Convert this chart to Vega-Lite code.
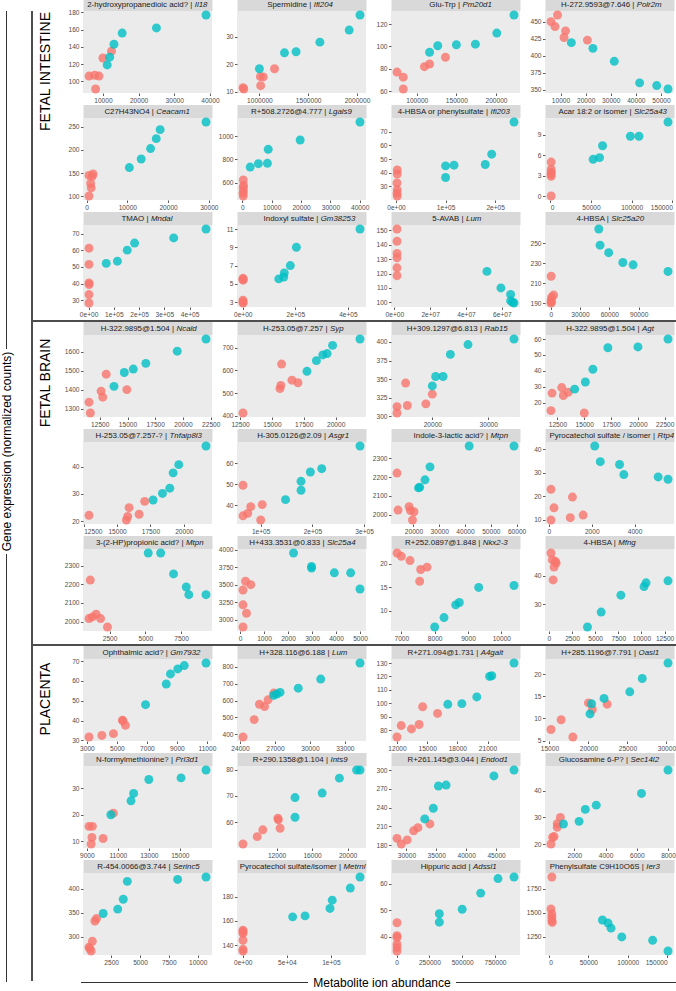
{
"$schema":"https://vega.github.io/schema/vega-lite/v6.json",
"padding":0,
"background":"white",
"config":{
 "view":{"stroke":null},
 "numberFormat":"d",
 "axis":{"grid":false,"domain":false,"tickColor":"#333333","tickSize":2.5,"tickWidth":0.8,"labelFontSize":6.6,"labelColor":"#4D4D4D","labelFont":"Liberation Sans","labelPadding":1.5,"labelOverlap":false,"titleFont":"Liberation Sans","titleFontSize":7.9,"titleFontWeight":"normal","titleColor":"#1A1A1A"},
 "axisLeft":{"minExtent":22},
 "axisTop":{"labels":false,"ticks":false,"domainColor":"#D9D9D9","domainWidth":13,"titleBaseline":"middle","titlePadding":0}
},
"datasets":{"pts":[
{"p":1,"g":"1","x":6100,"y":106},{"p":1,"g":"1","x":7700,"y":107},{"p":1,"g":"1","x":8900,"y":106},{"p":1,"g":"1","x":7950,"y":91},{"p":1,"g":"1","x":10000,"y":127},{"p":1,"g":"1","x":12400,"y":135},
{"p":1,"g":"2","x":11200,"y":119},{"p":1,"g":"2","x":11900,"y":128},{"p":1,"g":"2","x":13100,"y":143},{"p":1,"g":"2","x":15400,"y":156},{"p":1,"g":"2","x":25000,"y":162},{"p":1,"g":"2","x":38900,"y":177},
{"p":2,"g":"1","x":832000,"y":11.5},{"p":2,"g":"1","x":840000,"y":11},{"p":2,"g":"1","x":1010000,"y":15.5},{"p":2,"g":"1","x":1040000,"y":15.4},{"p":2,"g":"1","x":1013000,"y":12.2},{"p":2,"g":"1","x":1155000,"y":18.4},
{"p":2,"g":"2","x":1000000,"y":18.4},{"p":2,"g":"2","x":1257000,"y":24.2},{"p":2,"g":"2","x":1376000,"y":24.6},{"p":2,"g":"2","x":1620000,"y":28.1},{"p":2,"g":"2","x":1920000,"y":32.5},{"p":2,"g":"2","x":2031000,"y":38},
{"p":3,"g":"1","x":75100,"y":77},{"p":3,"g":"1","x":83000,"y":72.4},{"p":3,"g":"1","x":83000,"y":61.8},{"p":3,"g":"1","x":109700,"y":81.8},{"p":3,"g":"1","x":116200,"y":84.2},{"p":3,"g":"1","x":136200,"y":90.3},
{"p":3,"g":"2","x":116200,"y":94.8},{"p":3,"g":"2","x":126500,"y":100.6},{"p":3,"g":"2","x":150000,"y":101.5},{"p":3,"g":"2","x":174000,"y":102},{"p":3,"g":"2","x":201000,"y":112},{"p":3,"g":"2","x":222700,"y":128.2},
{"p":4,"g":"1","x":6200,"y":450},{"p":4,"g":"1","x":7800,"y":442.7},{"p":4,"g":"1","x":8800,"y":459.7},{"p":4,"g":"1","x":12000,"y":436.4},{"p":4,"g":"1","x":11400,"y":426.7},{"p":4,"g":"1","x":20700,"y":422.8},
{"p":4,"g":"2","x":14300,"y":419},{"p":4,"g":"2","x":22900,"y":410.7},{"p":4,"g":"2","x":31400,"y":391.7},{"p":4,"g":"2","x":41500,"y":360},{"p":4,"g":"2","x":48300,"y":356},{"p":4,"g":"2","x":52800,"y":351},
{"p":5,"g":"1","x":600,"y":145},{"p":5,"g":"1","x":1600,"y":148},{"p":5,"g":"1","x":1400,"y":143},{"p":5,"g":"1","x":1000,"y":127.5},{"p":5,"g":"1","x":1150,"y":118},{"p":5,"g":"1","x":600,"y":100.5},
{"p":5,"g":"2","x":10500,"y":162},{"p":5,"g":"2","x":13400,"y":180.5},{"p":5,"g":"2","x":15700,"y":203},{"p":5,"g":"2","x":17100,"y":224.5},{"p":5,"g":"2","x":18050,"y":244},{"p":5,"g":"2","x":29300,"y":260.5},
{"p":6,"g":"1","x":300,"y":623},{"p":6,"g":"1","x":400,"y":577},{"p":6,"g":"1","x":250,"y":557},{"p":6,"g":"1","x":350,"y":529},{"p":6,"g":"1","x":200,"y":509},{"p":6,"g":"1","x":300,"y":486},
{"p":6,"g":"2","x":2650,"y":734},{"p":6,"g":"2","x":5440,"y":763},{"p":6,"g":"2","x":8530,"y":766},{"p":6,"g":"2","x":8800,"y":886},{"p":6,"g":"2","x":19700,"y":966},{"p":6,"g":"2","x":40100,"y":1120},
{"p":7,"g":"1","x":2500,"y":42},{"p":7,"g":"1","x":2500,"y":39},{"p":7,"g":"1","x":2000,"y":32.5},{"p":7,"g":"1","x":2500,"y":27.5},{"p":7,"g":"1","x":2000,"y":25},{"p":7,"g":"1","x":2500,"y":23},
{"p":7,"g":"2","x":100000,"y":36.5},{"p":7,"g":"2","x":100000,"y":45},{"p":7,"g":"2","x":117000,"y":45.5},{"p":7,"g":"2","x":180000,"y":46},{"p":7,"g":"2","x":193000,"y":53.5},{"p":7,"g":"2","x":238000,"y":77},
{"p":8,"g":"1","x":1000,"y":5},{"p":8,"g":"1","x":1000,"y":3.9},{"p":8,"g":"1","x":1200,"y":3.5},{"p":8,"g":"1","x":800,"y":3.2},{"p":8,"g":"1","x":1000,"y":2.9},{"p":8,"g":"1","x":1000,"y":0},
{"p":8,"g":"2","x":52600,"y":5.4},{"p":8,"g":"2","x":60500,"y":5.65},{"p":8,"g":"2","x":64200,"y":7.4},{"p":8,"g":"2","x":98400,"y":8.8},{"p":8,"g":"2","x":109000,"y":8.8},{"p":8,"g":"2","x":144700,"y":10.9},
{"p":9,"g":"1","x":1500,"y":61.4},{"p":9,"g":"1","x":1500,"y":51.6},{"p":9,"g":"1","x":1500,"y":40.4},{"p":9,"g":"1","x":1800,"y":39.4},{"p":9,"g":"1","x":1500,"y":33.3},{"p":9,"g":"1","x":1500,"y":28.2},
{"p":9,"g":"2","x":69800,"y":52.2},{"p":9,"g":"2","x":114000,"y":53.5},{"p":9,"g":"2","x":153000,"y":60.2},{"p":9,"g":"2","x":182000,"y":64.5},{"p":9,"g":"2","x":337000,"y":67.6},{"p":9,"g":"2","x":465000,"y":73},
{"p":10,"g":"1","x":1000,"y":5.6},{"p":10,"g":"1","x":1200,"y":5.4},{"p":10,"g":"1","x":1500,"y":5.5},{"p":10,"g":"1","x":1000,"y":3.2},{"p":10,"g":"1","x":1500,"y":3.0},{"p":10,"g":"1","x":1000,"y":2.9},
{"p":10,"g":"2","x":137000,"y":5.54},{"p":10,"g":"2","x":156000,"y":5.75},{"p":10,"g":"2","x":158000,"y":6.2},{"p":10,"g":"2","x":181000,"y":7.0},{"p":10,"g":"2","x":204000,"y":9.0},{"p":10,"g":"2","x":446000,"y":11.0},
{"p":11,"g":"1","x":1500000,"y":151},{"p":11,"g":"1","x":1500000,"y":142.5},{"p":11,"g":"1","x":1500000,"y":134},{"p":11,"g":"1","x":1500000,"y":131},{"p":11,"g":"1","x":1500000,"y":124},{"p":11,"g":"1","x":1500000,"y":118.5},
{"p":11,"g":"2","x":51700000,"y":121.5},{"p":11,"g":"2","x":59500000,"y":110},{"p":11,"g":"2","x":64900000,"y":105.5},{"p":11,"g":"2","x":64900000,"y":101},{"p":11,"g":"2","x":66800000,"y":99.5},{"p":11,"g":"2","x":66000000,"y":100},
{"p":12,"g":"1","x":500,"y":217},{"p":12,"g":"1","x":3000,"y":198},{"p":12,"g":"1","x":1000,"y":196},{"p":12,"g":"1","x":500,"y":193},{"p":12,"g":"1","x":800,"y":191},{"p":12,"g":"1","x":300,"y":190},
{"p":12,"g":"2","x":49200,"y":264.6},{"p":12,"g":"2","x":50500,"y":248.3},{"p":12,"g":"2","x":59300,"y":240.7},{"p":12,"g":"2","x":73800,"y":230.8},{"p":12,"g":"2","x":84300,"y":228.5},{"p":12,"g":"2","x":120000,"y":221.8},
{"p":13,"g":"1","x":11530,"y":1334},{"p":13,"g":"1","x":11650,"y":1277},{"p":13,"g":"1","x":12620,"y":1392},{"p":13,"g":"1","x":12770,"y":1360},{"p":13,"g":"1","x":13080,"y":1481},{"p":13,"g":"1","x":14940,"y":1400},
{"p":13,"g":"2","x":13780,"y":1417},{"p":13,"g":"2","x":14710,"y":1490},{"p":13,"g":"2","x":15520,"y":1508},{"p":13,"g":"2","x":16650,"y":1538},{"p":13,"g":"2","x":19480,"y":1602},{"p":13,"g":"2","x":22070,"y":1666},
{"p":14,"g":"1","x":12730,"y":413},{"p":14,"g":"1","x":15760,"y":628},{"p":14,"g":"1","x":15630,"y":520},{"p":14,"g":"1","x":15700,"y":534},{"p":14,"g":"1","x":16570,"y":557},{"p":14,"g":"1","x":17040,"y":546},
{"p":14,"g":"2","x":17750,"y":596},{"p":14,"g":"2","x":18490,"y":643},{"p":14,"g":"2","x":18990,"y":668},{"p":14,"g":"2","x":19330,"y":674},{"p":14,"g":"2","x":19760,"y":710},{"p":14,"g":"2","x":21910,"y":738},
{"p":15,"g":"1","x":13690,"y":313},{"p":15,"g":"1","x":13690,"y":304.4},{"p":15,"g":"1","x":15540,"y":314.5},{"p":15,"g":"1","x":15230,"y":344.7},{"p":15,"g":"1","x":18850,"y":316.7},{"p":15,"g":"1","x":20000,"y":329.8},
{"p":15,"g":"2","x":20000,"y":340.8},{"p":15,"g":"2","x":20600,"y":353.5},{"p":15,"g":"2","x":21920,"y":353.5},{"p":15,"g":"2","x":23230,"y":383.3},{"p":15,"g":"2","x":26380,"y":396.5},{"p":15,"g":"2","x":34600,"y":404},
{"p":16,"g":"1","x":11900,"y":15},{"p":16,"g":"1","x":12000,"y":26},{"p":16,"g":"1","x":12900,"y":29.5},{"p":16,"g":"1","x":13050,"y":24.5},{"p":16,"g":"1","x":13500,"y":26.5},{"p":16,"g":"1","x":15000,"y":13.5},
{"p":16,"g":"2","x":14100,"y":28.5},{"p":16,"g":"2","x":15100,"y":33},{"p":16,"g":"2","x":15800,"y":41},{"p":16,"g":"2","x":17200,"y":54.5},{"p":16,"g":"2","x":20000,"y":55},{"p":16,"g":"2","x":22800,"y":60},
{"p":17,"g":"1","x":12900,"y":22.2},{"p":17,"g":"1","x":15700,"y":20.5},{"p":17,"g":"1","x":15800,"y":21.8},{"p":17,"g":"1","x":15900,"y":25},{"p":17,"g":"1","x":16650,"y":22.6},{"p":17,"g":"1","x":17070,"y":27.3},
{"p":17,"g":"2","x":17700,"y":27.8},{"p":17,"g":"2","x":18400,"y":30.2},{"p":17,"g":"2","x":18950,"y":32.1},{"p":17,"g":"2","x":19200,"y":37.7},{"p":17,"g":"2","x":19620,"y":40.7},{"p":17,"g":"2","x":21660,"y":47.5},
{"p":18,"g":"1","x":65800,"y":49.5},{"p":18,"g":"1","x":65800,"y":34.8},{"p":18,"g":"1","x":75000,"y":36},{"p":18,"g":"1","x":80800,"y":39.2},{"p":18,"g":"1","x":100000,"y":32.8},{"p":18,"g":"1","x":103000,"y":40.2},
{"p":18,"g":"2","x":148000,"y":42.6},{"p":18,"g":"2","x":178000,"y":47.1},{"p":18,"g":"2","x":178000,"y":51.4},{"p":18,"g":"2","x":196000,"y":55.9},{"p":18,"g":"2","x":218000,"y":57.5},{"p":18,"g":"2","x":292000,"y":68.4},
{"p":19,"g":"1","x":13600,"y":2222},{"p":19,"g":"1","x":14000,"y":2025},{"p":19,"g":"1","x":18300,"y":2043},{"p":19,"g":"1","x":18800,"y":2022},{"p":19,"g":"1","x":19600,"y":1972},{"p":19,"g":"1","x":20200,"y":2016},
{"p":19,"g":"2","x":21960,"y":2143},{"p":19,"g":"2","x":22400,"y":2147},{"p":19,"g":"2","x":24460,"y":2186},{"p":19,"g":"2","x":26400,"y":2255},{"p":19,"g":"2","x":41600,"y":2366},{"p":19,"g":"2","x":59000,"y":2366},
{"p":20,"g":"1","x":100,"y":22.9},{"p":20,"g":"1","x":240,"y":15},{"p":20,"g":"1","x":100,"y":9.8},{"p":20,"g":"1","x":1100,"y":19.6},{"p":20,"g":"1","x":1000,"y":10.8},{"p":20,"g":"1","x":1600,"y":11.9},
{"p":20,"g":"2","x":2140,"y":41.4},{"p":20,"g":"2","x":2400,"y":34.7},{"p":20,"g":"2","x":3300,"y":33.5},{"p":20,"g":"2","x":3500,"y":29.2},{"p":20,"g":"2","x":5100,"y":28.2},{"p":20,"g":"2","x":5560,"y":27.2},
{"p":21,"g":"1","x":1150,"y":2222},{"p":21,"g":"1","x":1060,"y":2016},{"p":21,"g":"1","x":1300,"y":2025},{"p":21,"g":"1","x":1560,"y":2040},{"p":21,"g":"1","x":1870,"y":2016},{"p":21,"g":"1","x":2350,"y":1971},
{"p":21,"g":"2","x":5200,"y":2367},{"p":21,"g":"2","x":6070,"y":2367},{"p":21,"g":"2","x":6970,"y":2255},{"p":21,"g":"2","x":7860,"y":2185},{"p":21,"g":"2","x":8040,"y":2144},{"p":21,"g":"2","x":9240,"y":2144},
{"p":22,"g":"1","x":125,"y":2900},{"p":22,"g":"1","x":125,"y":3215},{"p":22,"g":"1","x":125,"y":3426},{"p":22,"g":"1","x":230,"y":3550},{"p":22,"g":"1","x":450,"y":3502},{"p":22,"g":"1","x":270,"y":3096},
{"p":22,"g":"2","x":2230,"y":3952},{"p":22,"g":"2","x":2980,"y":3761},{"p":22,"g":"2","x":2980,"y":3737},{"p":22,"g":"2","x":3930,"y":3670},{"p":22,"g":"2","x":4610,"y":3670},{"p":22,"g":"2","x":5000,"y":3440},
{"p":23,"g":"1","x":6870,"y":22.3},{"p":23,"g":"1","x":7000,"y":21.6},{"p":23,"g":"1","x":7260,"y":20.7},{"p":23,"g":"1","x":7580,"y":18.8},{"p":23,"g":"1","x":7770,"y":19.3},{"p":23,"g":"1","x":7550,"y":16.3},
{"p":23,"g":"2","x":8000,"y":6.6},{"p":23,"g":"2","x":8280,"y":8.6},{"p":23,"g":"2","x":8630,"y":11.3},{"p":23,"g":"2","x":8740,"y":11.8},{"p":23,"g":"2","x":9320,"y":15},{"p":23,"g":"2","x":10380,"y":15.4},
{"p":24,"g":"1","x":230,"y":47.9},{"p":24,"g":"1","x":370,"y":45.5},{"p":24,"g":"1","x":560,"y":43},{"p":24,"g":"1","x":790,"y":44.4},{"p":24,"g":"1","x":460,"y":38.5},{"p":24,"g":"1","x":700,"y":45},
{"p":24,"g":"2","x":4170,"y":22.1},{"p":24,"g":"2","x":5650,"y":27.3},{"p":24,"g":"2","x":7780,"y":33.2},{"p":24,"g":"2","x":10280,"y":36.2},{"p":24,"g":"2","x":10500,"y":37.5},{"p":24,"g":"2","x":12870,"y":38.2},
{"p":25,"g":"1","x":3140,"y":31.7},{"p":25,"g":"1","x":4000,"y":32.5},{"p":25,"g":"1","x":4770,"y":33.4},{"p":25,"g":"1","x":5370,"y":40.2},{"p":25,"g":"1","x":5570,"y":37.6},{"p":25,"g":"1","x":5400,"y":39.8},
{"p":25,"g":"2","x":6910,"y":48},{"p":25,"g":"2","x":8290,"y":58.4},{"p":25,"g":"2","x":8570,"y":63.5},{"p":25,"g":"2","x":9060,"y":66},{"p":25,"g":"2","x":9490,"y":67.7},{"p":25,"g":"2","x":10940,"y":69},
{"p":26,"g":"1","x":24260,"y":384},{"p":26,"g":"1","x":25220,"y":487},{"p":26,"g":"1","x":25670,"y":578},{"p":26,"g":"1","x":26110,"y":564},{"p":26,"g":"1","x":26410,"y":604},{"p":26,"g":"1","x":26900,"y":644},
{"p":26,"g":"2","x":26890,"y":630},{"p":26,"g":"2","x":27150,"y":638},{"p":26,"g":"2","x":27440,"y":648},{"p":26,"g":"2","x":29000,"y":673},{"p":26,"g":"2","x":30930,"y":727},{"p":26,"g":"2","x":34300,"y":822},
{"p":27,"g":"1","x":12000,"y":75},{"p":27,"g":"1","x":12420,"y":83.5},{"p":27,"g":"1","x":13440,"y":81},{"p":27,"g":"1","x":14200,"y":84.3},{"p":27,"g":"1","x":14550,"y":97.5},{"p":27,"g":"1","x":16030,"y":92.5},
{"p":27,"g":"2","x":17050,"y":99.3},{"p":27,"g":"2","x":18450,"y":99.8},{"p":27,"g":"2","x":19930,"y":104.8},{"p":27,"g":"2","x":21200,"y":120},{"p":27,"g":"2","x":21420,"y":120.5},{"p":27,"g":"2","x":23630,"y":130},
{"p":28,"g":"1","x":15200,"y":7.5},{"p":28,"g":"1","x":16500,"y":9.7},{"p":28,"g":"1","x":18000,"y":5.8},{"p":28,"g":"1","x":20000,"y":13.5},{"p":28,"g":"1","x":20500,"y":12},{"p":28,"g":"1","x":22400,"y":13.2},
{"p":28,"g":"2","x":20200,"y":11},{"p":28,"g":"2","x":20400,"y":13.3},{"p":28,"g":"2","x":22000,"y":14.5},{"p":28,"g":"2","x":25300,"y":16},{"p":28,"g":"2","x":26900,"y":19},{"p":28,"g":"2","x":30200,"y":22.5},
{"p":29,"g":"1","x":9140,"y":15.6},{"p":29,"g":"1","x":9360,"y":15.6},{"p":29,"g":"1","x":9330,"y":11.4},{"p":29,"g":"1","x":9280,"y":8.9},{"p":29,"g":"1","x":10050,"y":11},{"p":29,"g":"1","x":10710,"y":20.6},
{"p":29,"g":"2","x":10550,"y":20},{"p":29,"g":"2","x":11850,"y":25.3},{"p":29,"g":"2","x":12020,"y":28.1},{"p":29,"g":"2","x":13000,"y":33.4},{"p":29,"g":"2","x":15080,"y":34},{"p":29,"g":"2","x":16690,"y":37},
{"p":30,"g":"1","x":8220,"y":51.7},{"p":30,"g":"1","x":9820,"y":54.5},{"p":30,"g":"1","x":10450,"y":57.1},{"p":30,"g":"1","x":12150,"y":61.5},{"p":30,"g":"1","x":12200,"y":60.9},{"p":30,"g":"1","x":12400,"y":57.7},
{"p":30,"g":"2","x":14080,"y":61.9},{"p":30,"g":"2","x":14080,"y":69.4},{"p":30,"g":"2","x":17140,"y":71.1},{"p":30,"g":"2","x":19080,"y":76.8},{"p":30,"g":"2","x":21020,"y":79.9},{"p":30,"g":"2","x":21400,"y":79.9},
{"p":31,"g":"1","x":28430,"y":191},{"p":31,"g":"1","x":29140,"y":182},{"p":31,"g":"1","x":30140,"y":188.5},{"p":31,"g":"1","x":31210,"y":203},{"p":31,"g":"1","x":31930,"y":208},{"p":31,"g":"1","x":33930,"y":214},
{"p":31,"g":"2","x":33070,"y":222},{"p":31,"g":"2","x":34500,"y":239},{"p":31,"g":"2","x":35360,"y":274.5},{"p":31,"g":"2","x":36640,"y":276},{"p":31,"g":"2","x":44640,"y":290.5},{"p":31,"g":"2","x":48000,"y":300},
{"p":32,"g":"1","x":500,"y":20},{"p":32,"g":"1","x":600,"y":22.5},{"p":32,"g":"1","x":700,"y":22.8},{"p":32,"g":"1","x":900,"y":27.6},{"p":32,"g":"1","x":900,"y":26.3},{"p":32,"g":"1","x":1100,"y":30},
{"p":32,"g":"2","x":1300,"y":27.5},{"p":32,"g":"2","x":2300,"y":28.5},{"p":32,"g":"2","x":2700,"y":33},{"p":32,"g":"2","x":3400,"y":34.6},{"p":32,"g":"2","x":6300,"y":39},{"p":32,"g":"2","x":8000,"y":47.8},
{"p":33,"g":"1","x":580,"y":279},{"p":33,"g":"1","x":870,"y":291},{"p":33,"g":"1","x":760,"y":271},{"p":33,"g":"1","x":650,"y":276},{"p":33,"g":"1","x":1090,"y":333},{"p":33,"g":"1","x":1230,"y":338},
{"p":33,"g":"2","x":1810,"y":348.6},{"p":33,"g":"2","x":3070,"y":357.6},{"p":33,"g":"2","x":3550,"y":378},{"p":33,"g":"2","x":3900,"y":415},{"p":33,"g":"2","x":8260,"y":419},{"p":33,"g":"2","x":10720,"y":424},
{"p":34,"g":"1","x":300,"y":151.3},{"p":34,"g":"1","x":300,"y":149.7},{"p":34,"g":"1","x":300,"y":144.1},{"p":34,"g":"1","x":300,"y":136.7},{"p":34,"g":"1","x":300,"y":135.3},{"p":34,"g":"1","x":300,"y":152.4},
{"p":34,"g":"2","x":56600,"y":163.3},{"p":34,"g":"2","x":70700,"y":164.1},{"p":34,"g":"2","x":99000,"y":170.2},{"p":34,"g":"2","x":101500,"y":177},{"p":34,"g":"2","x":122000,"y":186.9},{"p":34,"g":"2","x":133000,"y":196},
{"p":35,"g":"1","x":3000,"y":45.3},{"p":35,"g":"1","x":3000,"y":40.4},{"p":35,"g":"1","x":3000,"y":39.7},{"p":35,"g":"1","x":3000,"y":37.2},{"p":35,"g":"1","x":3000,"y":35.9},{"p":35,"g":"1","x":3000,"y":34.6},
{"p":35,"g":"2","x":325600,"y":48.7},{"p":35,"g":"2","x":325600,"y":45.5},{"p":35,"g":"2","x":500000,"y":50.4},{"p":35,"g":"2","x":641000,"y":56.5},{"p":35,"g":"2","x":773000,"y":62},{"p":35,"g":"2","x":895000,"y":62.6},
{"p":36,"g":"1","x":3800,"y":1873},{"p":36,"g":"1","x":2700,"y":1539},{"p":36,"g":"1","x":3800,"y":1486},{"p":36,"g":"1","x":3800,"y":1451},{"p":36,"g":"1","x":3800,"y":1416},{"p":36,"g":"1","x":4300,"y":1398},
{"p":36,"g":"2","x":67900,"y":1423},{"p":36,"g":"2","x":75000,"y":1391},{"p":36,"g":"2","x":78800,"y":1338},{"p":36,"g":"2","x":92400,"y":1246},{"p":36,"g":"2","x":131500,"y":1211},{"p":36,"g":"2","x":151000,"y":1099}
]},
"spacing":18,
"hconcat":[
 {"spacing":0,"center":true,"vconcat":[
  {"width":1,"height":338,"view":{"fill":"#333333"},"data":{"values":[]},"mark":"point","encoding":{}},
  {"width":12,"height":205,"data":{"values":[{"t":"Gene expression (normalized counts)"}]},"mark":{"type":"text","angle":270,"fontSize":12,"font":"Liberation Sans","color":"#000000"},"encoding":{"text":{"field":"t"}}},
  {"width":1,"height":428,"view":{"fill":"#333333"},"data":{"values":[]},"mark":"point","encoding":{}}
 ]},
 {"spacing":0,"hconcat":[
  {"width":2,"height":970,"view":{"fill":"#4D4D4D"},"data":{"values":[]},"mark":"point","encoding":{}},
  {"spacing":2,"vconcat":[
   {"spacing":2,"hconcat":[
    {"width":26,"height":121,"data":{"values":[{"t":"FETAL INTESTINE"}]},"mark":{"type":"text","angle":270,"fontSize":14,"font":"Liberation Sans","color":"#000000"},"encoding":{"text":{"field":"t"}}},
    {"columns":4,"bounds":"flush","spacing":{"row":25,"column":25},"resolve":{"scale":{"x":"independent","y":"independent"}},"concat":[
     {"width":129,"height":82,"view":{"fill":"#EBEBEB"},"data":{"name":"pts"},"transform":[{"filter":"datum.p==1"}],"resolve":{"axis":{"x":"independent","y":"independent"}},"layer":[
      {"mark":{"type":"circle","size":80,"opacity":0.8},"encoding":{"x":{"field":"x","type":"quantitative","scale":{"zero":false,"nice":false,"padding":6},"axis":{"title":null,"values":[10000,20000,30000,40000]}},"y":{"field":"y","type":"quantitative","scale":{"zero":false,"nice":false,"padding":4},"axis":{"title":null,"values":[100,120,140,160,180]}},"color":{"field":"g","type":"nominal","scale":{"domain":["1","2"],"range":["#F8766D","#00BFC4"]},"legend":null}}},
      {"mark":{"type":"point","opacity":0},"encoding":{"y":{"field":"y","type":"quantitative","axis":null},"x":{"field":"x","type":"quantitative","axis":{"orient":"top","offset":7,"domain":true,"titleY":0,"title":"2-hydroxypropanedioic acid? |","titleX":108.8,"titleAlign":"right"}}}},
      {"mark":{"type":"point","opacity":0},"encoding":{"y":{"field":"y","type":"quantitative","axis":null},"x":{"field":"x","type":"quantitative","axis":{"orient":"top","offset":7,"titleY":0,"title":"Il18","titleX":111.2,"titleAlign":"left","titleFontStyle":"italic"}}}}
     ]},
     {"width":129,"height":82,"view":{"fill":"#EBEBEB"},"data":{"name":"pts"},"transform":[{"filter":"datum.p==2"}],"resolve":{"axis":{"x":"independent","y":"independent"}},"layer":[
      {"mark":{"type":"circle","size":80,"opacity":0.8},"encoding":{"x":{"field":"x","type":"quantitative","scale":{"zero":false,"nice":false,"padding":6},"axis":{"title":null,"values":[1000000,1500000,2000000]}},"y":{"field":"y","type":"quantitative","scale":{"zero":false,"nice":false,"padding":4},"axis":{"title":null,"values":[10,20,30]}},"color":{"field":"g","type":"nominal","scale":{"domain":["1","2"],"range":["#F8766D","#00BFC4"]},"legend":null}}},
      {"mark":{"type":"point","opacity":0},"encoding":{"y":{"field":"y","type":"quantitative","axis":null},"x":{"field":"x","type":"quantitative","axis":{"orient":"top","offset":7,"domain":true,"titleY":0,"title":"Spermidine |","titleX":73.8,"titleAlign":"right"}}}},
      {"mark":{"type":"point","opacity":0},"encoding":{"y":{"field":"y","type":"quantitative","axis":null},"x":{"field":"x","type":"quantitative","axis":{"orient":"top","offset":7,"titleY":0,"title":"Ifi204","titleX":76.2,"titleAlign":"left","titleFontStyle":"italic"}}}}
     ]},
     {"width":129,"height":82,"view":{"fill":"#EBEBEB"},"data":{"name":"pts"},"transform":[{"filter":"datum.p==3"}],"resolve":{"axis":{"x":"independent","y":"independent"}},"layer":[
      {"mark":{"type":"circle","size":80,"opacity":0.8},"encoding":{"x":{"field":"x","type":"quantitative","scale":{"zero":false,"nice":false,"padding":6},"axis":{"title":null,"values":[100000,150000,200000]}},"y":{"field":"y","type":"quantitative","scale":{"zero":false,"nice":false,"padding":4},"axis":{"title":null,"values":[60,80,100,120]}},"color":{"field":"g","type":"nominal","scale":{"domain":["1","2"],"range":["#F8766D","#00BFC4"]},"legend":null}}},
      {"mark":{"type":"point","opacity":0},"encoding":{"y":{"field":"y","type":"quantitative","axis":null},"x":{"field":"x","type":"quantitative","axis":{"orient":"top","offset":7,"domain":true,"titleY":0,"title":"Glu-Trp |","titleX":68.5,"titleAlign":"right"}}}},
      {"mark":{"type":"point","opacity":0},"encoding":{"y":{"field":"y","type":"quantitative","axis":null},"x":{"field":"x","type":"quantitative","axis":{"orient":"top","offset":7,"titleY":0,"title":"Pm20d1","titleX":71,"titleAlign":"left","titleFontStyle":"italic"}}}}
     ]},
     {"width":129,"height":82,"view":{"fill":"#EBEBEB"},"data":{"name":"pts"},"transform":[{"filter":"datum.p==4"}],"resolve":{"axis":{"x":"independent","y":"independent"}},"layer":[
      {"mark":{"type":"circle","size":80,"opacity":0.8},"encoding":{"x":{"field":"x","type":"quantitative","scale":{"zero":false,"nice":false,"padding":6},"axis":{"title":null,"values":[10000,20000,30000,40000,50000]}},"y":{"field":"y","type":"quantitative","scale":{"zero":false,"nice":false,"padding":4},"axis":{"title":null,"values":[350,375,400,425,450]}},"color":{"field":"g","type":"nominal","scale":{"domain":["1","2"],"range":["#F8766D","#00BFC4"]},"legend":null}}},
      {"mark":{"type":"point","opacity":0},"encoding":{"y":{"field":"y","type":"quantitative","axis":null},"x":{"field":"x","type":"quantitative","axis":{"orient":"top","offset":7,"domain":true,"titleY":0,"title":"H-272.9593@7.646 |","titleX":88.8,"titleAlign":"right"}}}},
      {"mark":{"type":"point","opacity":0},"encoding":{"y":{"field":"y","type":"quantitative","axis":null},"x":{"field":"x","type":"quantitative","axis":{"orient":"top","offset":7,"titleY":0,"title":"Polr2m","titleX":91.2,"titleAlign":"left","titleFontStyle":"italic"}}}}
     ]},
     {"width":129,"height":82,"view":{"fill":"#EBEBEB"},"data":{"name":"pts"},"transform":[{"filter":"datum.p==5"}],"resolve":{"axis":{"x":"independent","y":"independent"}},"layer":[
      {"mark":{"type":"circle","size":80,"opacity":0.8},"encoding":{"x":{"field":"x","type":"quantitative","scale":{"zero":false,"nice":false,"padding":6},"axis":{"title":null,"values":[0,10000,20000,30000]}},"y":{"field":"y","type":"quantitative","scale":{"zero":false,"nice":false,"padding":4},"axis":{"title":null,"values":[100,150,200,250]}},"color":{"field":"g","type":"nominal","scale":{"domain":["1","2"],"range":["#F8766D","#00BFC4"]},"legend":null}}},
      {"mark":{"type":"point","opacity":0},"encoding":{"y":{"field":"y","type":"quantitative","axis":null},"x":{"field":"x","type":"quantitative","axis":{"orient":"top","offset":7,"domain":true,"titleY":0,"title":"C27H43NO4 |","titleX":70.3,"titleAlign":"right"}}}},
      {"mark":{"type":"point","opacity":0},"encoding":{"y":{"field":"y","type":"quantitative","axis":null},"x":{"field":"x","type":"quantitative","axis":{"orient":"top","offset":7,"titleY":0,"title":"Ceacam1","titleX":72.7,"titleAlign":"left","titleFontStyle":"italic"}}}}
     ]},
     {"width":129,"height":82,"view":{"fill":"#EBEBEB"},"data":{"name":"pts"},"transform":[{"filter":"datum.p==6"}],"resolve":{"axis":{"x":"independent","y":"independent"}},"layer":[
      {"mark":{"type":"circle","size":80,"opacity":0.8},"encoding":{"x":{"field":"x","type":"quantitative","scale":{"zero":false,"nice":false,"padding":6},"axis":{"title":null,"values":[0,10000,20000,30000,40000]}},"y":{"field":"y","type":"quantitative","scale":{"zero":false,"nice":false,"padding":4},"axis":{"title":null,"values":[600,800,1000]}},"color":{"field":"g","type":"nominal","scale":{"domain":["1","2"],"range":["#F8766D","#00BFC4"]},"legend":null}}},
      {"mark":{"type":"point","opacity":0},"encoding":{"y":{"field":"y","type":"quantitative","axis":null},"x":{"field":"x","type":"quantitative","axis":{"orient":"top","offset":7,"domain":true,"titleY":0,"title":"R+508.2726@4.777 |","titleX":88.8,"titleAlign":"right"}}}},
      {"mark":{"type":"point","opacity":0},"encoding":{"y":{"field":"y","type":"quantitative","axis":null},"x":{"field":"x","type":"quantitative","axis":{"orient":"top","offset":7,"titleY":0,"title":"Lgals9","titleX":91.2,"titleAlign":"left","titleFontStyle":"italic"}}}}
     ]},
     {"width":129,"height":82,"view":{"fill":"#EBEBEB"},"data":{"name":"pts"},"transform":[{"filter":"datum.p==7"}],"resolve":{"axis":{"x":"independent","y":"independent"}},"layer":[
      {"mark":{"type":"circle","size":80,"opacity":0.8},"encoding":{"x":{"field":"x","type":"quantitative","scale":{"zero":false,"nice":false,"padding":6},"axis":{"title":null,"values":[0,100000,200000],"labelExpr":"replace(format(datum.value,'.0e'),'e+','e+0')"}},"y":{"field":"y","type":"quantitative","scale":{"zero":false,"nice":false,"padding":4},"axis":{"title":null,"values":[30,40,50,60,70]}},"color":{"field":"g","type":"nominal","scale":{"domain":["1","2"],"range":["#F8766D","#00BFC4"]},"legend":null}}},
      {"mark":{"type":"point","opacity":0},"encoding":{"y":{"field":"y","type":"quantitative","axis":null},"x":{"field":"x","type":"quantitative","axis":{"orient":"top","offset":7,"domain":true,"titleY":0,"title":"4-HBSA or phenylsulfate |","titleX":96.5,"titleAlign":"right"}}}},
      {"mark":{"type":"point","opacity":0},"encoding":{"y":{"field":"y","type":"quantitative","axis":null},"x":{"field":"x","type":"quantitative","axis":{"orient":"top","offset":7,"titleY":0,"title":"Ifi203","titleX":99,"titleAlign":"left","titleFontStyle":"italic"}}}}
     ]},
     {"width":129,"height":82,"view":{"fill":"#EBEBEB"},"data":{"name":"pts"},"transform":[{"filter":"datum.p==8"}],"resolve":{"axis":{"x":"independent","y":"independent"}},"layer":[
      {"mark":{"type":"circle","size":80,"opacity":0.8},"encoding":{"x":{"field":"x","type":"quantitative","scale":{"zero":false,"nice":false,"padding":6},"axis":{"title":null,"labelFlush":10,"values":[0,50000,100000,150000]}},"y":{"field":"y","type":"quantitative","scale":{"zero":false,"nice":false,"padding":4},"axis":{"title":null,"values":[0,3,6,9]}},"color":{"field":"g","type":"nominal","scale":{"domain":["1","2"],"range":["#F8766D","#00BFC4"]},"legend":null}}},
      {"mark":{"type":"point","opacity":0},"encoding":{"y":{"field":"y","type":"quantitative","axis":null},"x":{"field":"x","type":"quantitative","axis":{"orient":"top","offset":7,"domain":true,"titleY":0,"title":"Acar 18:2 or isomer |","titleX":86,"titleAlign":"right"}}}},
      {"mark":{"type":"point","opacity":0},"encoding":{"y":{"field":"y","type":"quantitative","axis":null},"x":{"field":"x","type":"quantitative","axis":{"orient":"top","offset":7,"titleY":0,"title":"Slc25a43","titleX":88.5,"titleAlign":"left","titleFontStyle":"italic"}}}}
     ]},
     {"width":129,"height":82,"view":{"fill":"#EBEBEB"},"data":{"name":"pts"},"transform":[{"filter":"datum.p==9"}],"resolve":{"axis":{"x":"independent","y":"independent"}},"layer":[
      {"mark":{"type":"circle","size":80,"opacity":0.8},"encoding":{"x":{"field":"x","type":"quantitative","scale":{"zero":false,"nice":false,"padding":6},"axis":{"title":null,"values":[0,100000,200000,300000,400000],"labelExpr":"replace(format(datum.value,'.0e'),'e+','e+0')"}},"y":{"field":"y","type":"quantitative","scale":{"zero":false,"nice":false,"padding":4},"axis":{"title":null,"values":[30,40,50,60,70]}},"color":{"field":"g","type":"nominal","scale":{"domain":["1","2"],"range":["#F8766D","#00BFC4"]},"legend":null}}},
      {"mark":{"type":"point","opacity":0},"encoding":{"y":{"field":"y","type":"quantitative","axis":null},"x":{"field":"x","type":"quantitative","axis":{"orient":"top","offset":7,"domain":true,"titleY":0,"title":"TMAO |","titleX":65,"titleAlign":"right"}}}},
      {"mark":{"type":"point","opacity":0},"encoding":{"y":{"field":"y","type":"quantitative","axis":null},"x":{"field":"x","type":"quantitative","axis":{"orient":"top","offset":7,"titleY":0,"title":"Mndal","titleX":67.5,"titleAlign":"left","titleFontStyle":"italic"}}}}
     ]},
     {"width":129,"height":82,"view":{"fill":"#EBEBEB"},"data":{"name":"pts"},"transform":[{"filter":"datum.p==10"}],"resolve":{"axis":{"x":"independent","y":"independent"}},"layer":[
      {"mark":{"type":"circle","size":80,"opacity":0.8},"encoding":{"x":{"field":"x","type":"quantitative","scale":{"zero":false,"nice":false,"padding":6},"axis":{"title":null,"values":[0,200000,400000],"labelExpr":"replace(format(datum.value,'.0e'),'e+','e+0')"}},"y":{"field":"y","type":"quantitative","scale":{"zero":false,"nice":false,"padding":4},"axis":{"title":null,"values":[3,5,7,9,11]}},"color":{"field":"g","type":"nominal","scale":{"domain":["1","2"],"range":["#F8766D","#00BFC4"]},"legend":null}}},
      {"mark":{"type":"point","opacity":0},"encoding":{"y":{"field":"y","type":"quantitative","axis":null},"x":{"field":"x","type":"quantitative","axis":{"orient":"top","offset":7,"domain":true,"titleY":0,"title":"Indoxyl sulfate |","titleX":80.8,"titleAlign":"right"}}}},
      {"mark":{"type":"point","opacity":0},"encoding":{"y":{"field":"y","type":"quantitative","axis":null},"x":{"field":"x","type":"quantitative","axis":{"orient":"top","offset":7,"titleY":0,"title":"Gm38253","titleX":83.2,"titleAlign":"left","titleFontStyle":"italic"}}}}
     ]},
     {"width":129,"height":82,"view":{"fill":"#EBEBEB"},"data":{"name":"pts"},"transform":[{"filter":"datum.p==11"}],"resolve":{"axis":{"x":"independent","y":"independent"}},"layer":[
      {"mark":{"type":"circle","size":80,"opacity":0.8},"encoding":{"x":{"field":"x","type":"quantitative","scale":{"zero":false,"nice":false,"padding":6},"axis":{"title":null,"values":[0,20000000,40000000,60000000],"labelExpr":"replace(format(datum.value,'.0e'),'e+','e+0')"}},"y":{"field":"y","type":"quantitative","scale":{"zero":false,"nice":false,"padding":4},"axis":{"title":null,"values":[100,110,120,130,140,150]}},"color":{"field":"g","type":"nominal","scale":{"domain":["1","2"],"range":["#F8766D","#00BFC4"]},"legend":null}}},
      {"mark":{"type":"point","opacity":0},"encoding":{"y":{"field":"y","type":"quantitative","axis":null},"x":{"field":"x","type":"quantitative","axis":{"orient":"top","offset":7,"domain":true,"titleY":0,"title":"5-AVAB |","titleX":72,"titleAlign":"right"}}}},
      {"mark":{"type":"point","opacity":0},"encoding":{"y":{"field":"y","type":"quantitative","axis":null},"x":{"field":"x","type":"quantitative","axis":{"orient":"top","offset":7,"titleY":0,"title":"Lum","titleX":74.5,"titleAlign":"left","titleFontStyle":"italic"}}}}
     ]},
     {"width":129,"height":82,"view":{"fill":"#EBEBEB"},"data":{"name":"pts"},"transform":[{"filter":"datum.p==12"}],"resolve":{"axis":{"x":"independent","y":"independent"}},"layer":[
      {"mark":{"type":"circle","size":80,"opacity":0.8},"encoding":{"x":{"field":"x","type":"quantitative","scale":{"zero":false,"nice":false,"padding":6},"axis":{"title":null,"values":[0,30000,60000,90000]}},"y":{"field":"y","type":"quantitative","scale":{"zero":false,"nice":false,"padding":4},"axis":{"title":null,"values":[190,210,230,250]}},"color":{"field":"g","type":"nominal","scale":{"domain":["1","2"],"range":["#F8766D","#00BFC4"]},"legend":null}}},
      {"mark":{"type":"point","opacity":0},"encoding":{"y":{"field":"y","type":"quantitative","axis":null},"x":{"field":"x","type":"quantitative","axis":{"orient":"top","offset":7,"domain":true,"titleY":0,"title":"4-HBSA |","titleX":63.3,"titleAlign":"right"}}}},
      {"mark":{"type":"point","opacity":0},"encoding":{"y":{"field":"y","type":"quantitative","axis":null},"x":{"field":"x","type":"quantitative","axis":{"orient":"top","offset":7,"titleY":0,"title":"Slc25a20","titleX":65.7,"titleAlign":"left","titleFontStyle":"italic"}}}}
     ]}
    ]}
   ]},
   {"width":644,"height":2,"view":{"fill":"#4D4D4D"},"data":{"values":[]},"mark":"point","encoding":{}},
   {"spacing":2,"hconcat":[
    {"width":26,"height":96,"data":{"values":[{"t":"FETAL BRAIN"}]},"mark":{"type":"text","angle":270,"fontSize":14,"font":"Liberation Sans","color":"#000000"},"encoding":{"text":{"field":"t"}}},
    {"columns":4,"bounds":"flush","spacing":{"row":25,"column":25},"resolve":{"scale":{"x":"independent","y":"independent"}},"concat":[
     {"width":129,"height":82,"view":{"fill":"#EBEBEB"},"data":{"name":"pts"},"transform":[{"filter":"datum.p==13"}],"resolve":{"axis":{"x":"independent","y":"independent"}},"layer":[
      {"mark":{"type":"circle","size":80,"opacity":0.8},"encoding":{"x":{"field":"x","type":"quantitative","scale":{"zero":false,"nice":false,"padding":6},"axis":{"title":null,"values":[12500,15000,17500,20000,22500]}},"y":{"field":"y","type":"quantitative","scale":{"zero":false,"nice":false,"padding":4},"axis":{"title":null,"values":[1300,1400,1500,1600]}},"color":{"field":"g","type":"nominal","scale":{"domain":["1","2"],"range":["#F8766D","#00BFC4"]},"legend":null}}},
      {"mark":{"type":"point","opacity":0},"encoding":{"y":{"field":"y","type":"quantitative","axis":null},"x":{"field":"x","type":"quantitative","axis":{"orient":"top","offset":7,"domain":true,"titleY":0,"title":"H-322.9895@1.504 |","titleX":90.5,"titleAlign":"right"}}}},
      {"mark":{"type":"point","opacity":0},"encoding":{"y":{"field":"y","type":"quantitative","axis":null},"x":{"field":"x","type":"quantitative","axis":{"orient":"top","offset":7,"titleY":0,"title":"Ncald","titleX":93,"titleAlign":"left","titleFontStyle":"italic"}}}}
     ]},
     {"width":129,"height":82,"view":{"fill":"#EBEBEB"},"data":{"name":"pts"},"transform":[{"filter":"datum.p==14"}],"resolve":{"axis":{"x":"independent","y":"independent"}},"layer":[
      {"mark":{"type":"circle","size":80,"opacity":0.8},"encoding":{"x":{"field":"x","type":"quantitative","scale":{"zero":false,"nice":false,"padding":6},"axis":{"title":null,"values":[12500,15000,17500,20000]}},"y":{"field":"y","type":"quantitative","scale":{"zero":false,"nice":false,"padding":4},"axis":{"title":null,"values":[400,500,600,700]}},"color":{"field":"g","type":"nominal","scale":{"domain":["1","2"],"range":["#F8766D","#00BFC4"]},"legend":null}}},
      {"mark":{"type":"point","opacity":0},"encoding":{"y":{"field":"y","type":"quantitative","axis":null},"x":{"field":"x","type":"quantitative","axis":{"orient":"top","offset":7,"domain":true,"titleY":0,"title":"H-253.05@7.257 |","titleX":90,"titleAlign":"right"}}}},
      {"mark":{"type":"point","opacity":0},"encoding":{"y":{"field":"y","type":"quantitative","axis":null},"x":{"field":"x","type":"quantitative","axis":{"orient":"top","offset":7,"titleY":0,"title":"Syp","titleX":92.5,"titleAlign":"left","titleFontStyle":"italic"}}}}
     ]},
     {"width":129,"height":82,"view":{"fill":"#EBEBEB"},"data":{"name":"pts"},"transform":[{"filter":"datum.p==15"}],"resolve":{"axis":{"x":"independent","y":"independent"}},"layer":[
      {"mark":{"type":"circle","size":80,"opacity":0.8},"encoding":{"x":{"field":"x","type":"quantitative","scale":{"zero":false,"nice":false,"padding":6},"axis":{"title":null,"values":[20000,30000]}},"y":{"field":"y","type":"quantitative","scale":{"zero":false,"nice":false,"padding":4},"axis":{"title":null,"values":[300,325,350,375,400]}},"color":{"field":"g","type":"nominal","scale":{"domain":["1","2"],"range":["#F8766D","#00BFC4"]},"legend":null}}},
      {"mark":{"type":"point","opacity":0},"encoding":{"y":{"field":"y","type":"quantitative","axis":null},"x":{"field":"x","type":"quantitative","axis":{"orient":"top","offset":7,"domain":true,"titleY":0,"title":"H+309.1297@6.813 |","titleX":90.5,"titleAlign":"right"}}}},
      {"mark":{"type":"point","opacity":0},"encoding":{"y":{"field":"y","type":"quantitative","axis":null},"x":{"field":"x","type":"quantitative","axis":{"orient":"top","offset":7,"titleY":0,"title":"Rab15","titleX":93,"titleAlign":"left","titleFontStyle":"italic"}}}}
     ]},
     {"width":129,"height":82,"view":{"fill":"#EBEBEB"},"data":{"name":"pts"},"transform":[{"filter":"datum.p==16"}],"resolve":{"axis":{"x":"independent","y":"independent"}},"layer":[
      {"mark":{"type":"circle","size":80,"opacity":0.8},"encoding":{"x":{"field":"x","type":"quantitative","scale":{"zero":false,"nice":false,"padding":6},"axis":{"title":null,"values":[12500,15000,17500,20000,22500]}},"y":{"field":"y","type":"quantitative","scale":{"zero":false,"nice":false,"padding":4},"axis":{"title":null,"values":[20,30,40,50,60]}},"color":{"field":"g","type":"nominal","scale":{"domain":["1","2"],"range":["#F8766D","#00BFC4"]},"legend":null}}},
      {"mark":{"type":"point","opacity":0},"encoding":{"y":{"field":"y","type":"quantitative","axis":null},"x":{"field":"x","type":"quantitative","axis":{"orient":"top","offset":7,"domain":true,"titleY":0,"title":"H-322.9895@1.504 |","titleX":94,"titleAlign":"right"}}}},
      {"mark":{"type":"point","opacity":0},"encoding":{"y":{"field":"y","type":"quantitative","axis":null},"x":{"field":"x","type":"quantitative","axis":{"orient":"top","offset":7,"titleY":0,"title":"Agt","titleX":96.5,"titleAlign":"left","titleFontStyle":"italic"}}}}
     ]},
     {"width":129,"height":82,"view":{"fill":"#EBEBEB"},"data":{"name":"pts"},"transform":[{"filter":"datum.p==17"}],"resolve":{"axis":{"x":"independent","y":"independent"}},"layer":[
      {"mark":{"type":"circle","size":80,"opacity":0.8},"encoding":{"x":{"field":"x","type":"quantitative","scale":{"zero":false,"nice":false,"padding":6},"axis":{"title":null,"values":[12500,15000,17500,20000]}},"y":{"field":"y","type":"quantitative","scale":{"zero":false,"nice":false,"padding":4},"axis":{"title":null,"values":[20,30,40]}},"color":{"field":"g","type":"nominal","scale":{"domain":["1","2"],"range":["#F8766D","#00BFC4"]},"legend":null}}},
      {"mark":{"type":"point","opacity":0},"encoding":{"y":{"field":"y","type":"quantitative","axis":null},"x":{"field":"x","type":"quantitative","axis":{"orient":"top","offset":7,"domain":true,"titleY":0,"title":"H-253.05@7.257-? |","titleX":83.5,"titleAlign":"right"}}}},
      {"mark":{"type":"point","opacity":0},"encoding":{"y":{"field":"y","type":"quantitative","axis":null},"x":{"field":"x","type":"quantitative","axis":{"orient":"top","offset":7,"titleY":0,"title":"Tnfaip8l3","titleX":86,"titleAlign":"left","titleFontStyle":"italic"}}}}
     ]},
     {"width":129,"height":82,"view":{"fill":"#EBEBEB"},"data":{"name":"pts"},"transform":[{"filter":"datum.p==18"}],"resolve":{"axis":{"x":"independent","y":"independent"}},"layer":[
      {"mark":{"type":"circle","size":80,"opacity":0.8},"encoding":{"x":{"field":"x","type":"quantitative","scale":{"zero":false,"nice":false,"padding":6},"axis":{"title":null,"values":[100000,200000,300000],"labelExpr":"replace(format(datum.value,'.0e'),'e+','e+0')"}},"y":{"field":"y","type":"quantitative","scale":{"zero":false,"nice":false,"padding":4},"axis":{"title":null,"values":[40,50,60]}},"color":{"field":"g","type":"nominal","scale":{"domain":["1","2"],"range":["#F8766D","#00BFC4"]},"legend":null}}},
      {"mark":{"type":"point","opacity":0},"encoding":{"y":{"field":"y","type":"quantitative","axis":null},"x":{"field":"x","type":"quantitative","axis":{"orient":"top","offset":7,"domain":true,"titleY":0,"title":"H-305.0126@2.09 |","titleX":88.5,"titleAlign":"right"}}}},
      {"mark":{"type":"point","opacity":0},"encoding":{"y":{"field":"y","type":"quantitative","axis":null},"x":{"field":"x","type":"quantitative","axis":{"orient":"top","offset":7,"titleY":0,"title":"Asgr1","titleX":91,"titleAlign":"left","titleFontStyle":"italic"}}}}
     ]},
     {"width":129,"height":82,"view":{"fill":"#EBEBEB"},"data":{"name":"pts"},"transform":[{"filter":"datum.p==19"}],"resolve":{"axis":{"x":"independent","y":"independent"}},"layer":[
      {"mark":{"type":"circle","size":80,"opacity":0.8},"encoding":{"x":{"field":"x","type":"quantitative","scale":{"zero":false,"nice":false,"padding":6},"axis":{"title":null,"values":[20000,30000,40000,50000,60000]}},"y":{"field":"y","type":"quantitative","scale":{"zero":false,"nice":false,"padding":4},"axis":{"title":null,"values":[2000,2100,2200,2300]}},"color":{"field":"g","type":"nominal","scale":{"domain":["1","2"],"range":["#F8766D","#00BFC4"]},"legend":null}}},
      {"mark":{"type":"point","opacity":0},"encoding":{"y":{"field":"y","type":"quantitative","axis":null},"x":{"field":"x","type":"quantitative","axis":{"orient":"top","offset":7,"domain":true,"titleY":0,"title":"Indole-3-lactic acid? |","titleX":96.5,"titleAlign":"right"}}}},
      {"mark":{"type":"point","opacity":0},"encoding":{"y":{"field":"y","type":"quantitative","axis":null},"x":{"field":"x","type":"quantitative","axis":{"orient":"top","offset":7,"titleY":0,"title":"Mtpn","titleX":99,"titleAlign":"left","titleFontStyle":"italic"}}}}
     ]},
     {"width":129,"height":82,"view":{"fill":"#EBEBEB"},"data":{"name":"pts"},"transform":[{"filter":"datum.p==20"}],"resolve":{"axis":{"x":"independent","y":"independent"}},"layer":[
      {"mark":{"type":"circle","size":80,"opacity":0.8},"encoding":{"x":{"field":"x","type":"quantitative","scale":{"zero":false,"nice":false,"padding":6},"axis":{"title":null,"values":[0,2000,4000]}},"y":{"field":"y","type":"quantitative","scale":{"zero":false,"nice":false,"padding":4},"axis":{"title":null,"values":[10,20,30,40]}},"color":{"field":"g","type":"nominal","scale":{"domain":["1","2"],"range":["#F8766D","#00BFC4"]},"legend":null}}},
      {"mark":{"type":"point","opacity":0},"encoding":{"y":{"field":"y","type":"quantitative","axis":null},"x":{"field":"x","type":"quantitative","axis":{"orient":"top","offset":7,"domain":true,"titleY":0,"title":"Pyrocatechol sulfate / isomer |","titleX":109.5,"titleAlign":"right"}}}},
      {"mark":{"type":"point","opacity":0},"encoding":{"y":{"field":"y","type":"quantitative","axis":null},"x":{"field":"x","type":"quantitative","axis":{"orient":"top","offset":7,"titleY":0,"title":"Rtp4","titleX":112,"titleAlign":"left","titleFontStyle":"italic"}}}}
     ]},
     {"width":129,"height":82,"view":{"fill":"#EBEBEB"},"data":{"name":"pts"},"transform":[{"filter":"datum.p==21"}],"resolve":{"axis":{"x":"independent","y":"independent"}},"layer":[
      {"mark":{"type":"circle","size":80,"opacity":0.8},"encoding":{"x":{"field":"x","type":"quantitative","scale":{"zero":false,"nice":false,"padding":6},"axis":{"title":null,"values":[2500,5000,7500]}},"y":{"field":"y","type":"quantitative","scale":{"zero":false,"nice":false,"padding":4},"axis":{"title":null,"values":[2000,2100,2200,2300]}},"color":{"field":"g","type":"nominal","scale":{"domain":["1","2"],"range":["#F8766D","#00BFC4"]},"legend":null}}},
      {"mark":{"type":"point","opacity":0},"encoding":{"y":{"field":"y","type":"quantitative","axis":null},"x":{"field":"x","type":"quantitative","axis":{"orient":"top","offset":7,"domain":true,"titleY":0,"title":"3-(2-HP)propionic acid? |","titleX":100,"titleAlign":"right"}}}},
      {"mark":{"type":"point","opacity":0},"encoding":{"y":{"field":"y","type":"quantitative","axis":null},"x":{"field":"x","type":"quantitative","axis":{"orient":"top","offset":7,"titleY":0,"title":"Mtpn","titleX":102.5,"titleAlign":"left","titleFontStyle":"italic"}}}}
     ]},
     {"width":129,"height":82,"view":{"fill":"#EBEBEB"},"data":{"name":"pts"},"transform":[{"filter":"datum.p==22"}],"resolve":{"axis":{"x":"independent","y":"independent"}},"layer":[
      {"mark":{"type":"circle","size":80,"opacity":0.8},"encoding":{"x":{"field":"x","type":"quantitative","scale":{"zero":false,"nice":false,"padding":6},"axis":{"title":null,"values":[0,1000,2000,3000,4000,5000]}},"y":{"field":"y","type":"quantitative","scale":{"zero":false,"nice":false,"padding":4},"axis":{"title":null,"values":[3000,3250,3500,3750,4000]}},"color":{"field":"g","type":"nominal","scale":{"domain":["1","2"],"range":["#F8766D","#00BFC4"]},"legend":null}}},
      {"mark":{"type":"point","opacity":0},"encoding":{"y":{"field":"y","type":"quantitative","axis":null},"x":{"field":"x","type":"quantitative","axis":{"orient":"top","offset":7,"domain":true,"titleY":0,"title":"H+433.3531@0.833 |","titleX":87,"titleAlign":"right"}}}},
      {"mark":{"type":"point","opacity":0},"encoding":{"y":{"field":"y","type":"quantitative","axis":null},"x":{"field":"x","type":"quantitative","axis":{"orient":"top","offset":7,"titleY":0,"title":"Slc25a4","titleX":89.5,"titleAlign":"left","titleFontStyle":"italic"}}}}
     ]},
     {"width":129,"height":82,"view":{"fill":"#EBEBEB"},"data":{"name":"pts"},"transform":[{"filter":"datum.p==23"}],"resolve":{"axis":{"x":"independent","y":"independent"}},"layer":[
      {"mark":{"type":"circle","size":80,"opacity":0.8},"encoding":{"x":{"field":"x","type":"quantitative","scale":{"zero":false,"nice":false,"padding":6},"axis":{"title":null,"values":[7000,8000,9000,10000]}},"y":{"field":"y","type":"quantitative","scale":{"zero":false,"nice":false,"padding":4},"axis":{"title":null,"values":[10,15,20]}},"color":{"field":"g","type":"nominal","scale":{"domain":["1","2"],"range":["#F8766D","#00BFC4"]},"legend":null}}},
      {"mark":{"type":"point","opacity":0},"encoding":{"y":{"field":"y","type":"quantitative","axis":null},"x":{"field":"x","type":"quantitative","axis":{"orient":"top","offset":7,"domain":true,"titleY":0,"title":"R+252.0897@1.848 |","titleX":88.8,"titleAlign":"right"}}}},
      {"mark":{"type":"point","opacity":0},"encoding":{"y":{"field":"y","type":"quantitative","axis":null},"x":{"field":"x","type":"quantitative","axis":{"orient":"top","offset":7,"titleY":0,"title":"Nkx2-3","titleX":91.2,"titleAlign":"left","titleFontStyle":"italic"}}}}
     ]},
     {"width":129,"height":82,"view":{"fill":"#EBEBEB"},"data":{"name":"pts"},"transform":[{"filter":"datum.p==24"}],"resolve":{"axis":{"x":"independent","y":"independent"}},"layer":[
      {"mark":{"type":"circle","size":80,"opacity":0.8},"encoding":{"x":{"field":"x","type":"quantitative","scale":{"zero":false,"nice":false,"padding":6},"axis":{"title":null,"values":[0,2500,5000,7500,10000,12500]}},"y":{"field":"y","type":"quantitative","scale":{"zero":false,"nice":false,"padding":4},"axis":{"title":null,"values":[30,40]}},"color":{"field":"g","type":"nominal","scale":{"domain":["1","2"],"range":["#F8766D","#00BFC4"]},"legend":null}}},
      {"mark":{"type":"point","opacity":0},"encoding":{"y":{"field":"y","type":"quantitative","axis":null},"x":{"field":"x","type":"quantitative","axis":{"orient":"top","offset":7,"domain":true,"titleY":0,"title":"4-HBSA |","titleX":70.3,"titleAlign":"right"}}}},
      {"mark":{"type":"point","opacity":0},"encoding":{"y":{"field":"y","type":"quantitative","axis":null},"x":{"field":"x","type":"quantitative","axis":{"orient":"top","offset":7,"titleY":0,"title":"Mfng","titleX":72.7,"titleAlign":"left","titleFontStyle":"italic"}}}}
     ]}
    ]}
   ]},
   {"width":644,"height":2,"view":{"fill":"#4D4D4D"},"data":{"values":[]},"mark":"point","encoding":{}},
   {"spacing":2,"hconcat":[
    {"width":26,"height":80,"data":{"values":[{"t":"PLACENTA"}]},"mark":{"type":"text","angle":270,"fontSize":14,"font":"Liberation Sans","color":"#000000"},"encoding":{"text":{"field":"t"}}},
    {"columns":4,"bounds":"flush","spacing":{"row":25,"column":25},"resolve":{"scale":{"x":"independent","y":"independent"}},"concat":[
     {"width":129,"height":82,"view":{"fill":"#EBEBEB"},"data":{"name":"pts"},"transform":[{"filter":"datum.p==25"}],"resolve":{"axis":{"x":"independent","y":"independent"}},"layer":[
      {"mark":{"type":"circle","size":80,"opacity":0.8},"encoding":{"x":{"field":"x","type":"quantitative","scale":{"zero":false,"nice":false,"padding":6},"axis":{"title":null,"values":[3000,5000,7000,9000,11000]}},"y":{"field":"y","type":"quantitative","scale":{"zero":false,"nice":false,"padding":4},"axis":{"title":null,"values":[30,40,50,60,70]}},"color":{"field":"g","type":"nominal","scale":{"domain":["1","2"],"range":["#F8766D","#00BFC4"]},"legend":null}}},
      {"mark":{"type":"point","opacity":0},"encoding":{"y":{"field":"y","type":"quantitative","axis":null},"x":{"field":"x","type":"quantitative","axis":{"orient":"top","offset":7,"domain":true,"titleY":0,"title":"Ophthalmic acid? |","titleX":84.3,"titleAlign":"right"}}}},
      {"mark":{"type":"point","opacity":0},"encoding":{"y":{"field":"y","type":"quantitative","axis":null},"x":{"field":"x","type":"quantitative","axis":{"orient":"top","offset":7,"titleY":0,"title":"Gm7932","titleX":86.7,"titleAlign":"left","titleFontStyle":"italic"}}}}
     ]},
     {"width":129,"height":82,"view":{"fill":"#EBEBEB"},"data":{"name":"pts"},"transform":[{"filter":"datum.p==26"}],"resolve":{"axis":{"x":"independent","y":"independent"}},"layer":[
      {"mark":{"type":"circle","size":80,"opacity":0.8},"encoding":{"x":{"field":"x","type":"quantitative","scale":{"zero":false,"nice":false,"padding":6},"axis":{"title":null,"values":[24000,27000,30000,33000]}},"y":{"field":"y","type":"quantitative","scale":{"zero":false,"nice":false,"padding":4},"axis":{"title":null,"values":[400,500,600,700,800]}},"color":{"field":"g","type":"nominal","scale":{"domain":["1","2"],"range":["#F8766D","#00BFC4"]},"legend":null}}},
      {"mark":{"type":"point","opacity":0},"encoding":{"y":{"field":"y","type":"quantitative","axis":null},"x":{"field":"x","type":"quantitative","axis":{"orient":"top","offset":7,"domain":true,"titleY":0,"title":"H+328.116@6.188 |","titleX":92,"titleAlign":"right"}}}},
      {"mark":{"type":"point","opacity":0},"encoding":{"y":{"field":"y","type":"quantitative","axis":null},"x":{"field":"x","type":"quantitative","axis":{"orient":"top","offset":7,"titleY":0,"title":"Lum","titleX":94.5,"titleAlign":"left","titleFontStyle":"italic"}}}}
     ]},
     {"width":129,"height":82,"view":{"fill":"#EBEBEB"},"data":{"name":"pts"},"transform":[{"filter":"datum.p==27"}],"resolve":{"axis":{"x":"independent","y":"independent"}},"layer":[
      {"mark":{"type":"circle","size":80,"opacity":0.8},"encoding":{"x":{"field":"x","type":"quantitative","scale":{"zero":false,"nice":false,"padding":6},"axis":{"title":null,"values":[12000,15000,18000,21000]}},"y":{"field":"y","type":"quantitative","scale":{"zero":false,"nice":false,"padding":4},"axis":{"title":null,"values":[80,90,100,110,120,130]}},"color":{"field":"g","type":"nominal","scale":{"domain":["1","2"],"range":["#F8766D","#00BFC4"]},"legend":null}}},
      {"mark":{"type":"point","opacity":0},"encoding":{"y":{"field":"y","type":"quantitative","axis":null},"x":{"field":"x","type":"quantitative","axis":{"orient":"top","offset":7,"domain":true,"titleY":0,"title":"R+271.094@1.731 |","titleX":86.8,"titleAlign":"right"}}}},
      {"mark":{"type":"point","opacity":0},"encoding":{"y":{"field":"y","type":"quantitative","axis":null},"x":{"field":"x","type":"quantitative","axis":{"orient":"top","offset":7,"titleY":0,"title":"A4galt","titleX":89.2,"titleAlign":"left","titleFontStyle":"italic"}}}}
     ]},
     {"width":129,"height":82,"view":{"fill":"#EBEBEB"},"data":{"name":"pts"},"transform":[{"filter":"datum.p==28"}],"resolve":{"axis":{"x":"independent","y":"independent"}},"layer":[
      {"mark":{"type":"circle","size":80,"opacity":0.8},"encoding":{"x":{"field":"x","type":"quantitative","scale":{"zero":false,"nice":false,"padding":6},"axis":{"title":null,"values":[15000,20000,25000,30000]}},"y":{"field":"y","type":"quantitative","scale":{"zero":false,"nice":false,"padding":4},"axis":{"title":null,"values":[5,10,15,20]}},"color":{"field":"g","type":"nominal","scale":{"domain":["1","2"],"range":["#F8766D","#00BFC4"]},"legend":null}}},
      {"mark":{"type":"point","opacity":0},"encoding":{"y":{"field":"y","type":"quantitative","axis":null},"x":{"field":"x","type":"quantitative","axis":{"orient":"top","offset":7,"domain":true,"titleY":0,"title":"H+285.1196@7.791 |","titleX":90.5,"titleAlign":"right"}}}},
      {"mark":{"type":"point","opacity":0},"encoding":{"y":{"field":"y","type":"quantitative","axis":null},"x":{"field":"x","type":"quantitative","axis":{"orient":"top","offset":7,"titleY":0,"title":"Oasl1","titleX":93,"titleAlign":"left","titleFontStyle":"italic"}}}}
     ]},
     {"width":129,"height":82,"view":{"fill":"#EBEBEB"},"data":{"name":"pts"},"transform":[{"filter":"datum.p==29"}],"resolve":{"axis":{"x":"independent","y":"independent"}},"layer":[
      {"mark":{"type":"circle","size":80,"opacity":0.8},"encoding":{"x":{"field":"x","type":"quantitative","scale":{"zero":false,"nice":false,"padding":6},"axis":{"title":null,"values":[9000,11000,13000,15000]}},"y":{"field":"y","type":"quantitative","scale":{"zero":false,"nice":false,"padding":4},"axis":{"title":null,"values":[10,20,30]}},"color":{"field":"g","type":"nominal","scale":{"domain":["1","2"],"range":["#F8766D","#00BFC4"]},"legend":null}}},
      {"mark":{"type":"point","opacity":0},"encoding":{"y":{"field":"y","type":"quantitative","axis":null},"x":{"field":"x","type":"quantitative","axis":{"orient":"top","offset":7,"domain":true,"titleY":0,"title":"N-formylmethionine? |","titleX":89.5,"titleAlign":"right"}}}},
      {"mark":{"type":"point","opacity":0},"encoding":{"y":{"field":"y","type":"quantitative","axis":null},"x":{"field":"x","type":"quantitative","axis":{"orient":"top","offset":7,"titleY":0,"title":"Prl3d1","titleX":92,"titleAlign":"left","titleFontStyle":"italic"}}}}
     ]},
     {"width":129,"height":82,"view":{"fill":"#EBEBEB"},"data":{"name":"pts"},"transform":[{"filter":"datum.p==30"}],"resolve":{"axis":{"x":"independent","y":"independent"}},"layer":[
      {"mark":{"type":"circle","size":80,"opacity":0.8},"encoding":{"x":{"field":"x","type":"quantitative","scale":{"zero":false,"nice":false,"padding":6},"axis":{"title":null,"values":[12000,16000,20000]}},"y":{"field":"y","type":"quantitative","scale":{"zero":false,"nice":false,"padding":4},"axis":{"title":null,"values":[60,70,80]}},"color":{"field":"g","type":"nominal","scale":{"domain":["1","2"],"range":["#F8766D","#00BFC4"]},"legend":null}}},
      {"mark":{"type":"point","opacity":0},"encoding":{"y":{"field":"y","type":"quantitative","axis":null},"x":{"field":"x","type":"quantitative","axis":{"orient":"top","offset":7,"domain":true,"titleY":0,"title":"R+290.1358@1.104 |","titleX":90.5,"titleAlign":"right"}}}},
      {"mark":{"type":"point","opacity":0},"encoding":{"y":{"field":"y","type":"quantitative","axis":null},"x":{"field":"x","type":"quantitative","axis":{"orient":"top","offset":7,"titleY":0,"title":"Ints9","titleX":93,"titleAlign":"left","titleFontStyle":"italic"}}}}
     ]},
     {"width":129,"height":82,"view":{"fill":"#EBEBEB"},"data":{"name":"pts"},"transform":[{"filter":"datum.p==31"}],"resolve":{"axis":{"x":"independent","y":"independent"}},"layer":[
      {"mark":{"type":"circle","size":80,"opacity":0.8},"encoding":{"x":{"field":"x","type":"quantitative","scale":{"zero":false,"nice":false,"padding":6},"axis":{"title":null,"values":[30000,35000,40000,45000]}},"y":{"field":"y","type":"quantitative","scale":{"zero":false,"nice":false,"padding":4},"axis":{"title":null,"values":[180,210,240,270,300]}},"color":{"field":"g","type":"nominal","scale":{"domain":["1","2"],"range":["#F8766D","#00BFC4"]},"legend":null}}},
      {"mark":{"type":"point","opacity":0},"encoding":{"y":{"field":"y","type":"quantitative","axis":null},"x":{"field":"x","type":"quantitative","axis":{"orient":"top","offset":7,"domain":true,"titleY":0,"title":"R+261.145@3.044 |","titleX":86.8,"titleAlign":"right"}}}},
      {"mark":{"type":"point","opacity":0},"encoding":{"y":{"field":"y","type":"quantitative","axis":null},"x":{"field":"x","type":"quantitative","axis":{"orient":"top","offset":7,"titleY":0,"title":"Endod1","titleX":89.2,"titleAlign":"left","titleFontStyle":"italic"}}}}
     ]},
     {"width":129,"height":82,"view":{"fill":"#EBEBEB"},"data":{"name":"pts"},"transform":[{"filter":"datum.p==32"}],"resolve":{"axis":{"x":"independent","y":"independent"}},"layer":[
      {"mark":{"type":"circle","size":80,"opacity":0.8},"encoding":{"x":{"field":"x","type":"quantitative","scale":{"zero":false,"nice":false,"padding":6},"axis":{"title":null,"values":[2000,4000,6000,8000]}},"y":{"field":"y","type":"quantitative","scale":{"zero":false,"nice":false,"padding":4},"axis":{"title":null,"values":[20,30,40]}},"color":{"field":"g","type":"nominal","scale":{"domain":["1","2"],"range":["#F8766D","#00BFC4"]},"legend":null}}},
      {"mark":{"type":"point","opacity":0},"encoding":{"y":{"field":"y","type":"quantitative","axis":null},"x":{"field":"x","type":"quantitative","axis":{"orient":"top","offset":7,"domain":true,"titleY":0,"title":"Glucosamine 6-P? |","titleX":82.5,"titleAlign":"right"}}}},
      {"mark":{"type":"point","opacity":0},"encoding":{"y":{"field":"y","type":"quantitative","axis":null},"x":{"field":"x","type":"quantitative","axis":{"orient":"top","offset":7,"titleY":0,"title":"Sec14l2","titleX":85,"titleAlign":"left","titleFontStyle":"italic"}}}}
     ]},
     {"width":129,"height":82,"view":{"fill":"#EBEBEB"},"data":{"name":"pts"},"transform":[{"filter":"datum.p==33"}],"resolve":{"axis":{"x":"independent","y":"independent"}},"layer":[
      {"mark":{"type":"circle","size":80,"opacity":0.8},"encoding":{"x":{"field":"x","type":"quantitative","scale":{"zero":false,"nice":false,"padding":6},"axis":{"title":null,"values":[2500,5000,7500,10000]}},"y":{"field":"y","type":"quantitative","scale":{"zero":false,"nice":false,"padding":4},"axis":{"title":null,"values":[300,350,400]}},"color":{"field":"g","type":"nominal","scale":{"domain":["1","2"],"range":["#F8766D","#00BFC4"]},"legend":null}}},
      {"mark":{"type":"point","opacity":0},"encoding":{"y":{"field":"y","type":"quantitative","axis":null},"x":{"field":"x","type":"quantitative","axis":{"orient":"top","offset":7,"domain":true,"titleY":0,"title":"R-454.0066@3.744 |","titleX":87,"titleAlign":"right"}}}},
      {"mark":{"type":"point","opacity":0},"encoding":{"y":{"field":"y","type":"quantitative","axis":null},"x":{"field":"x","type":"quantitative","axis":{"orient":"top","offset":7,"titleY":0,"title":"Serinc5","titleX":89.5,"titleAlign":"left","titleFontStyle":"italic"}}}}
     ]},
     {"width":129,"height":82,"view":{"fill":"#EBEBEB"},"data":{"name":"pts"},"transform":[{"filter":"datum.p==34"}],"resolve":{"axis":{"x":"independent","y":"independent"}},"layer":[
      {"mark":{"type":"circle","size":80,"opacity":0.8},"encoding":{"x":{"field":"x","type":"quantitative","scale":{"zero":false,"nice":false,"padding":6},"axis":{"title":null,"values":[0,50000,100000],"labelExpr":"replace(format(datum.value,'.0e'),'e+','e+0')"}},"y":{"field":"y","type":"quantitative","scale":{"zero":false,"nice":false,"padding":4},"axis":{"title":null,"values":[140,160,180]}},"color":{"field":"g","type":"nominal","scale":{"domain":["1","2"],"range":["#F8766D","#00BFC4"]},"legend":null}}},
      {"mark":{"type":"point","opacity":0},"encoding":{"y":{"field":"y","type":"quantitative","axis":null},"x":{"field":"x","type":"quantitative","axis":{"orient":"top","offset":7,"domain":true,"titleY":0,"title":"Pyrocatechol sulfate/isomer |","titleX":103.5,"titleAlign":"right"}}}},
      {"mark":{"type":"point","opacity":0},"encoding":{"y":{"field":"y","type":"quantitative","axis":null},"x":{"field":"x","type":"quantitative","axis":{"orient":"top","offset":7,"titleY":0,"title":"Metrnl","titleX":106,"titleAlign":"left","titleFontStyle":"italic"}}}}
     ]},
     {"width":129,"height":82,"view":{"fill":"#EBEBEB"},"data":{"name":"pts"},"transform":[{"filter":"datum.p==35"}],"resolve":{"axis":{"x":"independent","y":"independent"}},"layer":[
      {"mark":{"type":"circle","size":80,"opacity":0.8},"encoding":{"x":{"field":"x","type":"quantitative","scale":{"zero":false,"nice":false,"padding":6},"axis":{"title":null,"values":[0,250000,500000,750000]}},"y":{"field":"y","type":"quantitative","scale":{"zero":false,"nice":false,"padding":4},"axis":{"title":null,"values":[40,50,60]}},"color":{"field":"g","type":"nominal","scale":{"domain":["1","2"],"range":["#F8766D","#00BFC4"]},"legend":null}}},
      {"mark":{"type":"point","opacity":0},"encoding":{"y":{"field":"y","type":"quantitative","axis":null},"x":{"field":"x","type":"quantitative","axis":{"orient":"top","offset":7,"domain":true,"titleY":0,"title":"Hippuric acid |","titleX":79,"titleAlign":"right"}}}},
      {"mark":{"type":"point","opacity":0},"encoding":{"y":{"field":"y","type":"quantitative","axis":null},"x":{"field":"x","type":"quantitative","axis":{"orient":"top","offset":7,"titleY":0,"title":"Adssl1","titleX":81.5,"titleAlign":"left","titleFontStyle":"italic"}}}}
     ]},
     {"width":129,"height":82,"view":{"fill":"#EBEBEB"},"data":{"name":"pts"},"transform":[{"filter":"datum.p==36"}],"resolve":{"axis":{"x":"independent","y":"independent"}},"layer":[
      {"mark":{"type":"circle","size":80,"opacity":0.8},"encoding":{"x":{"field":"x","type":"quantitative","scale":{"zero":false,"nice":false,"padding":6},"axis":{"title":null,"labelFlush":10,"values":[0,50000,100000,150000]}},"y":{"field":"y","type":"quantitative","scale":{"zero":false,"nice":false,"padding":4},"axis":{"title":null,"values":[1250,1500,1750]}},"color":{"field":"g","type":"nominal","scale":{"domain":["1","2"],"range":["#F8766D","#00BFC4"]},"legend":null}}},
      {"mark":{"type":"point","opacity":0},"encoding":{"y":{"field":"y","type":"quantitative","axis":null},"x":{"field":"x","type":"quantitative","axis":{"orient":"top","offset":7,"domain":true,"titleY":0,"title":"Phenylsulfate C9H10O6S |","titleX":98.3,"titleAlign":"right"}}}},
      {"mark":{"type":"point","opacity":0},"encoding":{"y":{"field":"y","type":"quantitative","axis":null},"x":{"field":"x","type":"quantitative","axis":{"orient":"top","offset":7,"titleY":0,"title":"Ier3","titleX":100.7,"titleAlign":"left","titleFontStyle":"italic"}}}}
     ]}
    ]}
   ]},
   {"width":644,"height":6,"data":{"values":[]},"mark":"point","encoding":{}},
   {"spacing":0,"center":true,"hconcat":[
    {"width":48,"height":1,"data":{"values":[]},"mark":"point","encoding":{}},
    {"width":227,"height":1,"view":{"fill":"#333333"},"data":{"values":[]},"mark":"point","encoding":{}},
    {"width":148,"height":13,"data":{"values":[{"t":"Metabolite ion abundance"}]},"mark":{"type":"text","fontSize":12,"font":"Liberation Sans","color":"#000000"},"encoding":{"text":{"field":"t"}}},
    {"width":221,"height":1,"view":{"fill":"#333333"},"data":{"values":[]},"mark":"point","encoding":{}}
   ]}
  ]}
 ]}
]
}
